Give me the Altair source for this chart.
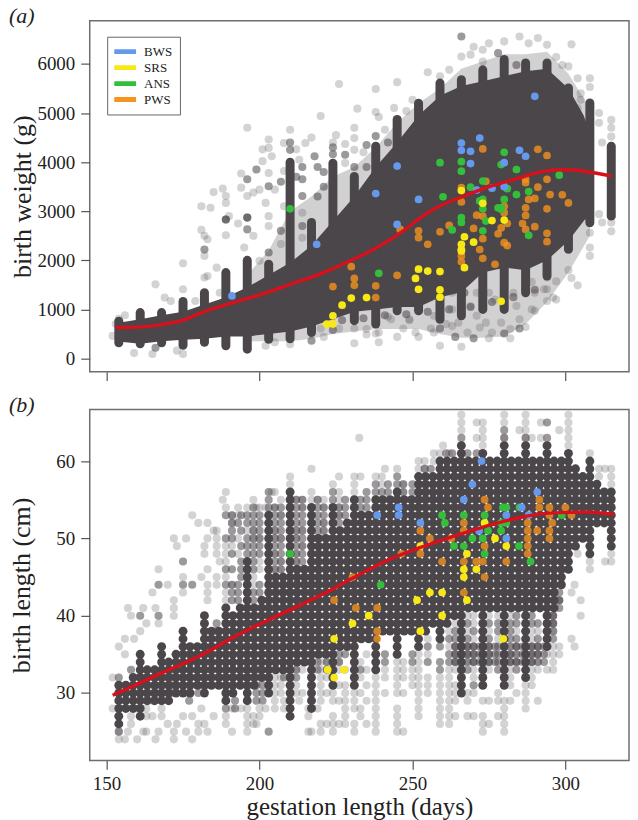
import altair as alt
import pandas as pd

DARK = "#4b464a"
SERIF = "Liberation Serif"
GROUPS = ["BWS", "SRS", "ANS", "PWS"]
COLORS = ["#6699ee", "#f7e816", "#35be3c", "#f7941d"]
X_TICKS = [150, 200, 250, 300]
X_DOMAIN = [144.5, 320.8]

# ---------- panel (a): birth weight ----------
mass_a_days = [153, 161, 168, 175, 182, 189, 196, 203, 210, 217, 224, 231, 238, 245, 252, 259, 266, 273, 280, 287, 294, 301, 306, 309]
mass_a_high = [720, 800, 880, 950, 1100, 1250, 1450, 1700, 1950, 2300, 2800, 3300, 3900, 4400, 4950, 5350, 5550, 5650, 5750, 5850, 5900, 5500, 4950, 4400]
mass_a_low = [350, 300, 350, 380, 400, 450, 450, 500, 550, 650, 800, 950, 1000, 1050, 1050, 1250, 1350, 1750, 1850, 1800, 2000, 2400, 2800, 3000]

haze_a_days = [196, 203, 210, 217, 224, 231, 238, 245, 252, 259, 266, 273, 280, 287, 294, 301, 308]
haze_a_high = [1700, 2200, 3000, 3300, 3700, 3900, 4300, 4800, 5200, 5500, 5900, 6050, 6200, 6200, 6250, 5800, 5100]
haze_a_low = [350, 350, 350, 400, 500, 550, 600, 600, 600, 500, 420, 420, 450, 700, 1150, 1750, 2500]

week_a_days = [154, 161, 168, 175, 182, 189, 196, 203, 210, 217, 224, 231, 238, 245, 252, 259, 266, 273, 280, 287, 294, 301, 308, 315]
week_a_high = [760, 935, 935, 1160, 1340, 1750, 2000, 1920, 4000, 2770, 3980, 3710, 4325, 4870, 5200, 5610, 5680, 5880, 6090, 6020, 6020, 5510, 5205, 4325]
week_a_low = [320, 300, 320, 270, 330, 260, 190, 390, 400, 530, 880, 770, 700, 970, 970, 800, 870, 1000, 1000, 1340, 1680, 2225, 2765, 2900]

faint_a_days = [153, 152, 156, 154, 159, 165, 175, 173, 182, 189, 205, 202, 210, 166, 175, 169, 171, 175, 179, 182, 183, 186, 187, 181, 182, 183, 182, 181, 184, 185, 188, 189, 189, 193, 189, 190, 194, 194, 196, 203, 201, 203, 201, 204, 203, 205, 198, 200, 196, 202, 198, 195, 203, 203, 200, 207, 208, 210, 208, 212, 213, 215, 217, 214, 208, 214,
                226, 238, 245, 232, 220, 238, 239, 244, 248, 250, 255, 231, 228, 225, 224, 228, 234, 231, 231, 241, 245, 259, 262, 266, 270, 275, 273, 273, 269, 280, 285, 288, 291, 294, 302, 297, 299, 301, 304, 308, 308, 305, 305, 304, 311, 311, 312, 315, 315, 315,
                312, 315, 315, 311, 308, 308, 308, 304, 302, 301, 297, 296, 297, 294, 290, 287, 294, 289, 293,
                231, 239, 245, 259, 266, 235, 252, 275, 282, 256, 249, 247, 242, 238, 221, 226, 220, 231,
                269, 271, 274, 265, 261, 259, 263, 268, 272, 276, 279, 282, 285, 284, 283, 289, 290, 294, 275, 277, 271, 263, 263, 257, 257, 251, 249, 243, 239, 235]
faint_a_grams = [700, 460, 880, 810, 110, 90, 90, 160, 330, 360, 330, 260, 290, 1510, 1940, 1240, 1170, 1410, 1170, 1650, 1680, 1850, 1340, 2620, 2500, 2430, 2090, 3100, 3070, 3390, 3460, 3310, 3170, 2750, 2510, 2900, 3770, 3480, 4700, 4460, 4260, 4290, 4020, 4120, 3780, 3440, 3380, 3440, 3310, 3170, 2500, 2260, 2900, 2700, 1990, 2330, 3820, 4660, 4390, 4260, 4050, 4390, 4500, 2970, 3100, 2460,
                 5593, 5490, 5630, 5090, 4940, 5020, 4920, 5105, 5040, 5270, 5830, 4700, 4370, 4550, 4400, 3980, 4200, 4490, 4250, 4660, 4800, 5750, 5880, 6150, 6350, 6420, 6290, 6050, 6190, 6460, 6560, 6420, 6530, 6390, 6400, 6140, 5980, 5950, 5710, 5710, 5530, 5400, 5270, 5100, 5000, 4800, 4400, 4860, 4700, 4520,
                 2770, 2590, 2770, 2940, 2090, 2260, 2560, 1490, 1640, 1800, 1570, 1240, 1200, 1170, 970, 640, 1650, 1560, 1410,
                 310, 330, 440, 260, 240, 490, 440, 410, 410, 610, 780, 610, 850, 510, 440, 610, 610, 610,
                 1070, 870, 730, 730, 700, 870, 660, 530, 630, 530, 730, 600, 800, 1070, 1340, 1000, 1340, 1410, 1340, 1200, 1340, 1000, 1340, 870, 530, 530, 800, 800, 530, 600]
mid_a_days = [196, 166, 217, 182, 189, 196, 196, 203, 203, 199, 196, 218, 214, 214, 224, 238, 242, 266, 278, 284, 264, 270, 280, 285, 259, 224, 287, 267, 196, 189,
              207, 210, 212, 214, 219, 221, 214, 207, 210, 219, 224, 221, 228, 231, 235, 235,
              227, 234, 241, 248, 255, 262, 269, 276, 283, 290]
mid_a_grams = [220, 220, 360, 2220, 2830, 3650, 2630, 3510, 2160, 3850, 2870, 4120, 3650, 3310, 4160, 4530, 4400, 6560, 6220, 5980, 440, 410, 510, 610, 610, 580, 1410, 1340, 2870, 2830,
               2600, 4250, 3700, 3900, 3900, 3800, 2700, 3600, 4400, 3300, 4300, 3500, 4150, 3900, 3900, 4350,
               780, 820, 880, 900, 950, 1000, 1050, 1150, 1250, 1400]

curve_a_days = [153, 160, 167, 175, 181, 191.5, 202.4, 210, 220, 230.7, 238.3, 247, 252.4, 257.8, 265.5, 274.2, 285, 291.5, 299, 306.8, 315]
curve_a_grams = [630, 640, 680, 780, 935, 1140, 1340, 1510, 1725, 2020, 2258, 2600, 2860, 3070, 3275, 3480, 3680, 3797, 3850, 3810, 3715]

bws_a = [(191, 1275), (218.7, 2325), (245, 3920), (238, 3360), (252, 3240), (245, 2730), (290, 5340), (266, 4390), (266, 4240), (269, 4220), (272, 4490), (269, 3970), (285, 4240), (287, 4120), (280, 3990), (271, 3430), (276, 3470), (280, 3500)]
ans_a = [(210, 3050), (239, 1735), (263, 2620), (259, 3990), (260, 3295), (266, 4010), (266, 3815), (280, 4200), (279, 3950), (284, 3850), (298, 3735), (273, 3615), (269, 3490), (281, 3460), (284, 3340), (288, 3400), (272, 3210), (273, 3240), (280, 3240), (278, 3070), (279, 3070), (279, 3040), (273, 3050), (266, 2870), (266, 2770), (274, 2800), (273, 2600), (288, 2510)]
srs_a = [(222, 700), (224, 700), (224, 870), (227, 1085), (230, 1230), (235, 1240), (252, 1820), (255, 1780), (259, 1770), (251, 1630), (252, 1410), (259, 1400), (259, 1250), (266, 3420), (273, 3160), (276, 2810), (280, 2820), (267, 2480), (270, 2370), (266, 2325), (266, 2220), (266, 2190), (267, 1850), (279, 1165)]
pws_a = [(224, 1465), (230, 1870), (231, 1630), (231, 1490), (238, 1480), (238, 1240), (245, 1695), (246, 2630), (252, 2600), (252, 2460), (255, 2325), (259, 2580), (262, 2710), (266, 3480), (266, 3190), (266, 1970), (266, 2090), (270, 2650), (271, 2920), (273, 4270), (274, 3610), (273, 2900), (273, 2440), (272, 2220), (273, 2040), (277, 1920), (280, 3100), (280, 2970), (281, 2750), (279, 2660), (278, 2540), (280, 2360), (281, 2300), (287, 3650), (287, 3580), (288, 3240), (290, 3260), (287, 3070), (287, 2915), (286, 2750), (287, 2630), (290, 2685), (291, 4260), (294, 4135), (294, 3650), (291, 3490), (295, 3340), (299, 3335), (301, 3170), (294, 3050), (294, 2550), (294, 2380)]

# ---------- panel (b): birth length (recorded in whole centimetres) ----------
lattice_b_days = [154, 156.3, 158.7, 161, 163.3, 165.7, 168, 170.3, 172.7, 175, 177.3, 179.7, 182, 184.3, 186.7, 189, 191.3, 193.7, 196, 198.3, 200.7, 203, 205.3, 207.7, 210, 212.3, 214.7, 217, 219.3, 221.7, 224, 226.3, 228.7, 231, 233.3, 235.7, 238, 240.3, 242.7, 245, 247.3, 249.7, 252, 254.3, 256.7, 259, 261.3, 263.7, 266, 268.3, 270.7, 273, 275.3, 277.7, 280, 282.3, 284.7, 287, 289.3, 291.7, 294, 296.3, 298.7, 301, 303.3, 305.7, 308, 310.3, 312.7, 315]
lattice_b_low = [26, 28, 28, 27, 29, 29, 29, 29, 30, 30, 30, 31, 30, 31, 31, 29, 30, 31, 29, 31, 32, 30, 33, 33, 27, 34, 34, 28, 35, 35, 31, 36, 36, 31, 37, 37, 33, 38, 38, 35, 38, 38, 36, 38, 39, 37, 39, 40, 30, 41, 41, 31, 41, 41, 31, 41, 41, 32, 41, 41, 36, 41, 44, 46, 49, 50, 48, 52, 52, 49]
lattice_b_high = [31, 31, 32, 35, 33, 33, 36, 34, 35, 38, 36, 36, 40, 38, 38, 41, 40, 41, 47, 41, 42, 53, 45, 45, 56, 46, 46, 54, 50, 50, 54, 51, 52, 55, 53, 53, 55, 55, 55, 56, 55, 55, 58, 58, 58, 60, 60, 60, 62, 60, 60, 61, 60, 60, 62, 60, 60, 62, 60, 60, 62, 60, 60, 61, 59, 58, 60, 57, 56, 56]

mid_b = {
    154: [32, 25], 158: [33], 161: [40], 167: [44, 40], 175: [44, 47], 178: [44], 189: [50, 53, 46, 44, 30, 28],
    186: [38, 39], 193: [43, 44, 42, 52], 196: [48, 49, 50, 52, 53], 198: [52, 53], 200: [52, 53], 203: [25, 54, 55, 56],
    205: [52, 53, 47], 207: [49, 52], 212: [49, 52, 53, 54], 214: [47, 48, 50, 52, 53], 219: [51, 52, 53, 54],
    224: [55, 56], 238: [56, 57], 245: [57, 58], 266: [63], 280: [64, 63], 287: [63], 294: [65, 63],
    259: [34, 33, 36], 262: [34, 35, 37], 264: [34, 35, 36, 37, 38], 268: [33, 35, 36, 37, 39], 270: [31, 34, 35, 36, 38],
    275: [34, 35, 36, 37, 39], 278: [33, 34, 35, 36, 38, 39], 282: [34, 35, 37, 38, 39], 284: [33, 34, 36, 37, 39, 40],
    289: [34, 35, 36, 39, 40], 291: [35, 36, 37, 39], 296: [37, 39, 40], 298: [42, 43], 255: [34, 36], 250: [34, 35],
    241: [35, 34], 233: [33], 228: [35],
}
mid_b_upper = {
    191: [42, 43, 44, 46, 48, 50, 51, 52, 53], 194: [45, 46, 47, 49, 51, 53], 198: [42, 43, 46, 47, 48, 49, 50, 51, 54],
    200: [43, 44, 48, 49, 50, 51], 205: [46, 48, 49, 50, 51, 54], 207: [46, 47, 48, 50, 51, 53, 54], 212: [47, 48, 50, 51, 55],
    214: [49, 51, 54, 55], 219: [50, 55], 221: [51, 52, 53, 54], 226: [52, 53, 54], 228: [53, 54, 55], 233: [54, 55], 235: [54, 55, 56],
    240: [56], 242: [56, 57], 247: [56, 57], 250: [56, 57], 254: [59], 256: [59], 261: [61], 263: [61], 268: [61], 271: [61],
}
mid_b_lower = {
    264: [34, 35, 36], 268: [34, 35, 36], 270: [34, 35, 36], 272: [34, 35, 36], 275: [34, 35, 36], 277: [34, 35, 36],
    282: [34, 35, 36], 284: [34, 35, 36], 286: [34, 35, 36], 289: [34, 35, 36], 291: [34, 35, 36], 293: [34, 35, 36],
    296: [38, 39, 40], 298: [41, 42], 166: [31, 32, 30], 171: [30, 31, 32, 33], 177: [29, 30, 32], 180: [30, 31],
    192: [28, 29], 199: [29, 30, 31, 33], 201: [29, 30, 31], 208: [32, 33], 212: [32, 33], 219: [33, 34], 222: [33, 34], 226: [34, 35],
}
faint_b = {
    152: [28, 32], 154: [24, 25, 36], 156: [24, 35, 37], 157: [25, 41], 158: [26, 27, 40], 159: [37, 28], 160: [24, 28], 161: [38],
    162: [41, 25], 163: [25, 27, 39, 28], 165: [43, 27, 29], 166: [24, 41], 167: [25, 46, 39], 168: [27, 28], 170: [26, 44],
    172: [24, 25, 40, 41, 42, 50], 173: [26, 49], 175: [27, 43, 45], 176: [25, 50], 178: [24, 27, 53], 180: [25, 26, 52],
    181: [45, 28], 182: [26, 48, 49], 183: [25, 42, 43, 44, 46, 50, 52], 185: [51, 27], 186: [44, 45, 48, 49, 50, 51], 187: [47],
    188: [55], 189: [26, 27, 42, 43, 45, 47, 48, 49, 54, 56], 191: [25, 28, 44, 49, 52, 53], 193: [48, 50, 53, 54],
    194: [28], 196: [25, 26, 27, 28, 51, 54], 198: [26, 27, 44, 45, 50, 51, 55], 199: [26, 54], 200: [27, 28, 46, 47, 50, 54],
    202: [54, 28], 204: [56], 205: [28, 29, 30, 31, 32, 33, 46, 48, 50, 51, 54, 56], 207: [30, 31, 32, 46, 47, 50, 53, 55],
    208: [28, 29], 210: [57, 58], 212: [30, 31, 33, 46, 47, 48, 50, 51, 55], 213: [29], 214: [30, 33, 46, 49, 51, 54, 55],
    216: [25, 27, 28], 217: [25, 55, 56, 59], 219: [28, 50, 55], 220: [25, 26, 29, 30, 31, 32, 33, 34], 221: [51, 52, 54, 55],
    222: [26, 30, 32, 33, 34], 224: [25, 26, 27, 29, 30, 57], 226: [26, 29, 31, 33, 34, 53, 54, 55, 56, 58],
    228: [26, 27, 28, 29, 30, 31, 33], 231: [25, 26, 28, 29, 30, 56, 57, 58], 232.6: [63], 233: [27, 28, 30, 32, 34, 58],
    235: [26, 29, 31, 33, 35], 238: [25, 26, 27, 28, 29, 30, 31, 32, 58], 240: [57, 58], 241: [30, 32, 33, 59],
    245: [25, 26, 27, 28, 30, 31, 32, 33, 34, 59], 247: [25, 30, 32, 33, 34, 56, 57], 250: [31, 32, 33],
    252: [27, 28, 29, 30, 31, 32, 33, 34, 35, 59, 60], 254: [59, 60], 255: [30, 31, 32, 35, 37], 257: [60, 61],
    259: [26, 27, 28, 29, 30, 31, 32, 61], 260: [62], 262: [26, 27, 28, 29, 30, 31, 32, 33, 36, 38, 61],
    264: [27, 29, 30, 31, 33, 39], 266: [62, 64, 65, 66], 268: [27, 29, 30, 34, 38, 40], 270: [27, 30, 32, 33, 37, 39, 40], 271: [63, 65],
    273: [25, 26, 27, 29, 62, 63, 64, 65], 275: [26, 29, 33, 38, 40], 278: [27, 29, 30, 37, 40], 280: [25, 26, 27, 28, 29, 63, 65, 66],
    282: [29, 31, 32, 33, 36, 40], 284: [30, 35, 38], 285: [64], 287: [28, 29, 30, 31, 63, 64, 65, 66], 289: [31, 32, 33, 37, 38, 63],
    291: [29, 33, 34, 38], 292: [63, 65], 294: [33, 35, 37, 38, 39, 40, 62], 296: [33, 34, 35, 36, 38, 41, 42], 298: [35, 36, 64],
    301: [62, 63, 64, 65, 66], 302: [43, 37], 303: [44, 36], 304: [48], 305: [40, 42], 308: [46, 47, 61], 311: [58, 59], 313: [47, 59],
    315: [47, 48, 57, 58, 59],
}

curve_b_days = [152, 167.6, 180.7, 191.5, 202.4, 213, 219.8, 230.7, 241.5, 252.4, 262.2, 274.2, 285, 296, 306.8, 316]
curve_b_cm = [29.7, 32.5, 34.85, 37.2, 39.35, 41.3, 42.6, 44.9, 47.1, 48.8, 50.1, 51.6, 52.7, 53.3, 53.4, 53.1]

bws_b = [(238.5, 53), (245.5, 54), (245.5, 53), (252.6, 52), (266.8, 55), (269.6, 57), (272.6, 60), (290.8, 56), (285.7, 54), (288, 53), (280.7, 53), (271.8, 51), (280.7, 50)]
ans_b = [(210, 48), (239.6, 44), (259.7, 53), (260.6, 52), (263.6, 49), (266.8, 53), (266.8, 49), (269.6, 50), (273.6, 53), (273, 50), (274.7, 51), (273.6, 48), (279.6, 54), (280.7, 54), (285, 54), (279, 52), (280.7, 52), (279, 51), (284.8, 49), (288.6, 47), (298.8, 53)]
srs_b = [(224.4, 37), (222.3, 33), (227.6, 33), (224.4, 32), (230.4, 39), (235.7, 40), (251.5, 42), (255.7, 43), (259.7, 43), (252.6, 49), (252.6, 38), (259.7, 40), (273.6, 52), (267.8, 48), (266.8, 46), (266.8, 45), (270.9, 46), (267.8, 42), (280.7, 49), (279.7, 37), (277, 50)]
pws_b = [(230.4, 45), (224.4, 42), (231.5, 41), (238.5, 41), (238.5, 38), (238.5, 37), (246.4, 48), (252.6, 51), (252.6, 48), (255.7, 50), (259.7, 47), (262.7, 50), (266.8, 52), (266.8, 51), (266.8, 47), (266.8, 43), (273.6, 55), (274.7, 54), (270.9, 47), (273, 47), (273.6, 49), (273.6, 45), (280.7, 47), (287.7, 52), (287.7, 51), (287.7, 50), (287.7, 49), (287.7, 48), (290.8, 51), (291.5, 55), (291.5, 54), (294.8, 54), (294.8, 53), (295.7, 52), (294.8, 51), (294.8, 50), (300, 54), (302, 53)]


def expand(*tables):
    return pd.DataFrame([(d, v) for table in tables for d, vs in table.items() for v in vs], columns=["x", "y"])


def groups_frame(bws, srs, ans, pws):
    rows = []
    for name, pts in [("PWS", pws), ("ANS", ans), ("SRS", srs), ("BWS", bws)]:
        rows += [(x, y, name) for x, y in pts]
    return pd.DataFrame(rows, columns=["x", "y", "group"])


def x_enc(show_x):
    return alt.X("x:Q", scale=alt.Scale(domain=X_DOMAIN, nice=False, zero=False),
                 axis=alt.Axis(values=X_TICKS, labels=show_x, format="d", grid=False, domain=False, tickSize=9,
                               tickColor="#555555", tickWidth=1.2, labelFont=SERIF, labelFontSize=19, labelColor="#222222",
                               labelPadding=5, title="gestation length (days)" if show_x else None,
                               titleFont=SERIF, titleFontSize=25, titleFontWeight="normal", titleColor="#222222", titlePadding=1))


def y_enc(domain, ticks, title, pad):
    return alt.Y("y:Q", scale=alt.Scale(domain=domain, nice=False, zero=False),
                 axis=alt.Axis(values=ticks, format="d", grid=False, domain=False, tickSize=9, tickColor="#555555", tickWidth=1.2,
                               labelFont=SERIF, labelFontSize=19, labelColor="#222222", labelPadding=6, title=title,
                               titleFont=SERIF, titleFontSize=26, titleFontWeight="normal", titleColor="#222222", titlePadding=pad))


def scatter(df, x, y, opacity, size):
    return alt.Chart(df).mark_circle(size=size, color=DARK, opacity=opacity).encode(x=x, y=y)


def finish(under, x, y, points, curve, legend, label):
    base = alt.Chart(points).mark_circle(size=60).encode(
        x=x, y=y,
        color=alt.Color("group:N", scale=alt.Scale(domain=GROUPS, range=COLORS), legend=legend),
        opacity=alt.condition("datum.group == 'PWS'", alt.value(0.78), alt.value(1)),
    )
    line = alt.Chart(curve).mark_line(color="#d8101c", strokeWidth=3.4, interpolate="monotone").encode(x=x, y=y)
    tag = alt.Chart(pd.DataFrame({"t": [label]})).mark_text(
        font=SERIF, fontStyle="italic", fontSize=22, color="#222222", align="left", baseline="alphabetic"
    ).encode(x=alt.value(-81), y=alt.value(2), text="t:N")
    return alt.layer(*under, base, line, tag).properties(width=541, height=352)


# panel a
xa = x_enc(False)
ya = y_enc([-268, 6880], [0, 1000, 2000, 3000, 4000, 5000, 6000], "birth weight (g)", 1)
under_a = [
    scatter(pd.DataFrame({"x": faint_a_days, "y": faint_a_grams}), xa, ya, 0.24, 66),
    scatter(pd.DataFrame({"x": mid_a_days, "y": mid_a_grams}), xa, ya, 0.55, 66),
    alt.Chart(pd.DataFrame({"x": haze_a_days, "y": haze_a_high, "y2": haze_a_low}))
    .mark_area(color=DARK, opacity=0.25).encode(x=xa, y=ya, y2="y2:Q"),
    alt.Chart(pd.DataFrame({"x": mass_a_days, "y": mass_a_high, "y2": mass_a_low}))
    .mark_area(color=DARK).encode(x=xa, y=ya, y2="y2:Q"),
    alt.Chart(pd.DataFrame({"x": week_a_days, "y": week_a_high, "y2": week_a_low}))
    .mark_rule(color=DARK, strokeWidth=9, strokeCap="round").encode(x=xa, y=ya, y2="y2:Q"),
]
legend_a = alt.Legend(title=None, orient="none", legendX=17.5, legendY=16, fillColor="white", strokeColor="#666666",
                      padding=7, symbolType="M-1,-0.22H1V0.22H-1Z", symbolSize=484, symbolOpacity=1, symbolStrokeWidth=0,
                      labelFont=SERIF, labelFontSize=13, labelColor="#222222", labelOffset=8, clipHeight=16, rowPadding=0)
chart_a = finish(under_a, xa, ya, groups_frame(bws_a, srs_a, ans_a, pws_a),
                 pd.DataFrame({"x": curve_a_days, "y": curve_a_grams}), legend_a, "(a)")

# panel b
xb = x_enc(True)
yb = y_enc([21.28, 66.67], [30, 40, 50, 60], "birth length (cm)", 21)
lattice_rows = [(d, cm) for d, lo, hi in zip(lattice_b_days, lattice_b_low, lattice_b_high) for cm in range(lo, hi + 1)]
under_b = [
    scatter(expand(faint_b), xb, yb, 0.24, 66),
    scatter(expand(mid_b, mid_b_upper, mid_b_lower), xb, yb, 0.55, 66),
    scatter(pd.DataFrame(lattice_rows, columns=["x", "y"]), xb, yb, 1, 80),
]
chart_b = finish(under_b, xb, yb, groups_frame(bws_b, srs_b, ans_b, pws_b),
                 pd.DataFrame({"x": curve_b_days, "y": curve_b_cm}), None, "(b)")

chart = (alt.vconcat(chart_a, chart_b, spacing=10)
         .resolve_scale(color="independent")
         .properties(padding={"left": 0, "top": -5.5, "right": 0, "bottom": 0})
         .configure_view(stroke="#6e6e6e", strokeWidth=1.5))

chart.save("out.html", embed_options={"renderer": "svg", "actions": False})
